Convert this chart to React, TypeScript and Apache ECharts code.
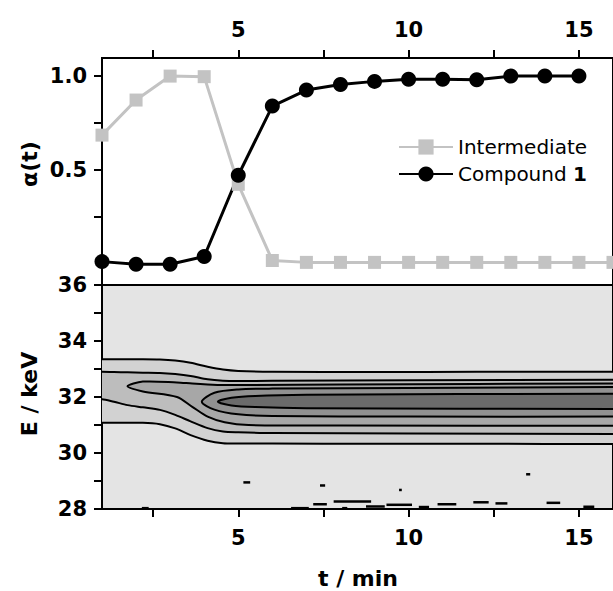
import React, { useEffect, useRef } from 'react';
import * as echarts from 'echarts';

// ---- top panel: fraction alpha(t) ----
const intermediateT = [1, 2, 3, 4, 5, 6, 7, 8, 9, 10, 11, 12, 13, 14, 15, 16];
const intermediate = [0.685, 0.871, 0.998, 0.995, 0.424, 0.02, 0.01, 0.01, 0.01, 0.01, 0.01, 0.01, 0.01, 0.01, 0.01, 0.01];
const compoundT = [1, 2, 3, 4, 5, 6, 7, 8, 9, 10, 11, 12, 13, 14, 15];
const compound = [0.014, 0.0, 0.0, 0.041, 0.472, 0.839, 0.924, 0.954, 0.97, 0.981, 0.981, 0.979, 0.998, 0.998, 0.998];

// ---- axis ticks / labels ----
const T_MIN = 1;
const T_MAX = 16;
const tTicks = [2.5, 5, 7.5, 10, 12.5, 15];
const tLabels = [5, 10, 15];
const alphaTicks = [0.25, 0.5, 0.75, 1.0];
const alphaLabels = [0.5, 1.0];
const eTicks = [28, 29, 30, 31, 32, 33, 34, 35, 36];
const eLabels = [28, 30, 32, 34, 36];

// ---- bottom panel: contour levels as [t, E lower, E upper] ----
const level1 = [[1, 31.08, 33.35], [2.2, 31.08, 33.35], [2.7, 31.03, 33.34], [3.15, 30.88, 33.3], [3.6, 30.64, 33.22], [4.1, 30.44, 33.08], [4.55, 30.35, 32.98], [5, 30.34, 32.93], [6, 30.34, 32.9], [9, 30.33, 32.89], [12, 30.33, 32.9], [16, 30.32, 32.9]];
const level2 = [[1, 31.92, 32.9], [1.35, 31.83, 32.89], [1.75, 31.71, 32.88], [2.2, 31.63, 32.87], [2.7, 31.54, 32.86], [3.15, 31.36, 32.82], [3.6, 31.13, 32.75], [4.1, 30.89, 32.63], [4.55, 30.77, 32.58], [5, 30.74, 32.57], [6, 30.71, 32.58], [10, 30.7, 32.6], [16, 30.68, 32.62]];
const level3 = [[1.75, 32.38, 32.38], [2.2, 32.2, 32.55], [3.2, 32.0, 32.52], [3.65, 31.65, 32.48], [4.1, 31.3, 32.45], [4.6, 31.1, 32.43], [5.3, 31.0, 32.43], [8, 30.98, 32.45], [16, 30.97, 32.48]];
const level4 = [[3.93, 31.83, 31.83], [4.3, 31.55, 32.15], [5, 31.38, 32.27], [6, 31.32, 32.3], [10, 31.3, 32.32], [16, 31.3, 32.36]];
const level5 = [[4.4, 31.83, 31.83], [4.8, 31.7, 31.97], [5.5, 31.64, 32.04], [7, 31.6, 32.08], [16, 31.57, 32.12]];
const levels = [level1, level2, level3, level4, level5];
const levelColors = ['#d2d2d2', '#bdbdbd', '#a7a7a7', '#919191', '#6b6b6b'];

// small isolated contour islands: [t start, t end, E]
const islands = [
  [5.15, 5.35, 28.95], [7.4, 7.55, 28.84], [9.72, 9.8, 28.68], [13.45, 13.57, 29.24],
  [7.2, 7.6, 28.17], [7.8, 8.9, 28.27], [8.75, 9.3, 28.09], [9.35, 10.1, 28.15],
  [10.3, 10.6, 28.07], [10.85, 11.4, 28.17], [11.9, 12.35, 28.24], [12.55, 12.9, 28.2],
  [14.05, 14.45, 28.22], [15.13, 15.45, 28.08], [6.55, 7.07, 28.03], [2.17, 2.37, 28.03], [8.05, 8.2, 28.03],
];

const FONT = 'DejaVu Sans';

export default function App() {
  const ref = useRef<HTMLDivElement>(null);
  useEffect(() => {
    if (!ref.current) return;
    const chart = echarts.init(ref.current, null, { renderer: 'svg' });
    const axisLine = { show: true, onZero: false, lineStyle: { color: '#000', width: 2 } };
    const tickStyle = { color: '#000', width: 2 };
    const labelStyle = { fontFamily: FONT, fontSize: 21, fontWeight: 'bold', color: '#000' };
    const xAxisBase = (gridIndex: number, position: string) => ({
      gridIndex, type: 'value', position, min: T_MIN, max: T_MAX,
      axisLine,
      axisTick: { show: true, inside: false, length: 8, lineStyle: tickStyle, customValues: tTicks },
      axisLabel: { ...labelStyle, margin: 18, customValues: tLabels },
      splitLine: { show: false },
    });
    const option: any = {
      animation: false,
      grid: [
        { left: 102, top: 58, width: 531, height: 227, show: true, backgroundColor: '#ffffff', borderColor: '#000', borderWidth: 2 },
        { left: 102, top: 285, width: 531, height: 224, show: true, backgroundColor: '#e4e4e4', borderColor: '#000', borderWidth: 2 },
      ],
      xAxis: [xAxisBase(0, 'top'), xAxisBase(1, 'bottom')],
      yAxis: [
        {
          gridIndex: 0, type: 'value', min: -0.11, max: 1.094, axisLine,
          axisTick: { show: true, inside: false, length: 8, lineStyle: tickStyle, customValues: alphaTicks },
          axisLabel: { ...labelStyle, margin: 15, customValues: alphaLabels, formatter: (v: number) => v.toFixed(1) },
          splitLine: { show: false },
        },
        {
          gridIndex: 1, type: 'value', min: 28, max: 36, axisLine,
          axisTick: { show: true, inside: false, length: 8, lineStyle: tickStyle, customValues: eTicks },
          axisLabel: { ...labelStyle, margin: 15, customValues: eLabels },
          splitLine: { show: false },
        },
      ],
      legend: {
        data: ['Intermediate', 'Compound 1'],
        left: 393, top: 132, orient: 'vertical',
        itemWidth: 54, itemHeight: 19, itemGap: 7,
        formatter: (name: string) => (name === 'Compound 1' ? '{a|Compound }{b|1}' : '{a|' + name + '}'),
        textStyle: {
          fontFamily: FONT, fontSize: 20, color: '#000', lineHeight: 20,
          rich: {
            a: { fontFamily: FONT, fontSize: 20, color: '#000' },
            b: { fontFamily: FONT, fontSize: 20, fontWeight: 'bold', color: '#000' },
          },
        },
      },
      graphic: [
        { type: 'text', x: 29, y: 164, rotation: Math.PI / 2, style: { text: 'α(t)', font: 'bold 22px "DejaVu Sans"', fill: '#000', align: 'center', verticalAlign: 'middle', textAlign: 'center', textVerticalAlign: 'middle' } },
        { type: 'text', x: 29, y: 394, rotation: Math.PI / 2, style: { text: 'E / keV', font: 'bold 22px "DejaVu Sans"', fill: '#000', align: 'center', verticalAlign: 'middle', textAlign: 'center', textVerticalAlign: 'middle' } },
        { type: 'text', x: 358, y: 578, style: { text: 't / min', font: 'bold 22px "DejaVu Sans"', fill: '#000', align: 'center', verticalAlign: 'middle', textAlign: 'center', textVerticalAlign: 'middle' } },
      ],
      series: [
        {
          type: 'custom', name: 'contour', xAxisIndex: 1, yAxisIndex: 1, clip: true, silent: true,
          data: levels.map((lv, i) => [lv[0][0], lv[0][1], i]),
          renderItem: (params: any, api: any) => {
            const lv = levels[params.dataIndex];
            const pad = 80; // carry open edges beyond the clipped plot frame
            const first = lv[0];
            const last = lv[lv.length - 1];
            const openLeft = first[0] <= T_MIN;
            const openRight = last[0] >= T_MAX;
            const pts: number[][] = [];
            lv.forEach((p, k) => {
              const c = api.coord([p[0], p[2]]);
              if (k === 0 && openLeft) pts.push([c[0] - pad, c[1]]);
              pts.push(c);
              if (k === lv.length - 1 && openRight) pts.push([c[0] + pad, c[1]]);
            });
            for (let k = lv.length - 1; k >= 0; k--) {
              const p = lv[k];
              if (p[1] === p[2]) continue;
              const c = api.coord([p[0], p[1]]);
              if (k === lv.length - 1 && openRight) pts.push([c[0] + pad, c[1]]);
              pts.push(c);
              if (k === 0 && openLeft) pts.push([c[0] - pad, c[1]]);
            }
            return {
              type: 'polygon',
              shape: { points: pts, smooth: 0.3 },
              style: { fill: levelColors[params.dataIndex], stroke: '#000', lineWidth: 2 },
            };
          },
        },
        {
          type: 'custom', name: 'islands', xAxisIndex: 1, yAxisIndex: 1, clip: true, silent: true,
          data: islands,
          renderItem: (params: any, api: any) => {
            const a = api.coord([api.value(0), api.value(2)]);
            const b = api.coord([api.value(1), api.value(2)]);
            return { type: 'line', shape: { x1: a[0], y1: a[1], x2: b[0], y2: b[1] }, style: { stroke: '#000', lineWidth: 2.5 } };
          },
        },
        {
          type: 'line', name: 'Intermediate', xAxisIndex: 0, yAxisIndex: 0,
          data: intermediateT.map((t, i) => [t, intermediate[i]]),
          symbol: 'rect', symbolSize: 13, itemStyle: { color: '#c3c3c3' },
          lineStyle: { color: '#c3c3c3', width: 3 },
        },
        {
          type: 'line', name: 'Compound 1', xAxisIndex: 0, yAxisIndex: 0,
          data: compoundT.map((t, i) => [t, compound[i]]),
          symbol: 'circle', symbolSize: 15, itemStyle: { color: '#000' },
          lineStyle: { color: '#000', width: 3 },
        },
      ],
    };
    chart.setOption(option);
    return () => chart.dispose();
  }, []);
  return <div ref={ref} style={{ position: 'absolute', left: 0, top: 0, width: 613, height: 591 }} />;
}
